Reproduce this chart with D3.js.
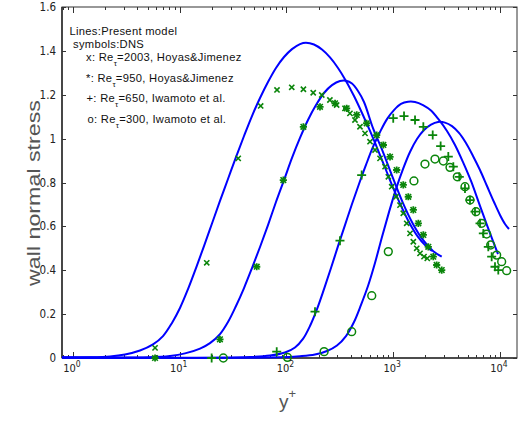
<!DOCTYPE html>
<html>
<head>
<meta charset="utf-8">
<script src="https://cdn.jsdelivr.net/npm/d3@7"></script>
<style>
  html, body { margin: 0; padding: 0; background: #fff; }
  svg { display: block; }
</style>
</head>
<body>
<svg id="chart" width="518" height="421"></svg>
<script>
// Model profiles (blue lines): [y+, wall normal stress]
const model2003 = [[0.79,0.002],[1.443,0.003],[2.222,0.007],[3.07,0.016],[4.243,0.034],[5.615,0.062],[6.968,0.1],[8.46,0.16],[10.05,0.228],[11.95,0.314],[14.2,0.41],[16.87,0.51],[20.05,0.613],[23.82,0.716],[28.31,0.816],[33.65,0.916],[40.0,1.012],[47.5,1.103],[56.5,1.185],[67.1,1.258],[79.7,1.322],[94.8,1.372],[112.6,1.408],[133.8,1.431],[152.3,1.437],[181,1.429],[215.1,1.406],[255.6,1.37],[303.8,1.322],[360.9,1.263],[428.9,1.194],[509.7,1.117],[605.7,1.035],[719.6,0.948],[855.3,0.857],[1016,0.766],[1208,0.684],[1435,0.611],[1706,0.552],[2027,0.51],[2307,0.488]];
const model950 = [[0.79,0.002],[5.264,0.003],[8.1,0.009],[11.2,0.021],[15.48,0.043],[19.2,0.068],[23.82,0.109],[28.31,0.164],[33.65,0.237],[40.0,0.319],[47.5,0.41],[56.5,0.506],[67.1,0.606],[79.7,0.711],[94.8,0.811],[112.6,0.912],[133.8,1.003],[159,1.085],[189,1.153],[224.6,1.208],[266.9,1.244],[317.1,1.263],[360.9,1.264],[410.8,1.251],[467.5,1.217],[532.1,1.167],[646.1,1.048],[801.7,0.939],[994.7,0.82],[1234,0.706],[1531,0.611],[1900,0.538],[2357,0.488],[2844,0.462]];
const model650 = [[0.79,0.002],[45.5,0.005],[70,0.011],[96.8,0.025],[120.1,0.048],[142.7,0.087],[166,0.146],[193.1,0.223],[224.6,0.314],[261.2,0.41],[303.8,0.51],[353.2,0.606],[410.8,0.702],[477.8,0.793],[555.5,0.88],[646.1,0.962],[751.3,1.03],[873.8,1.089],[1016,1.13],[1182,1.158],[1375,1.168],[1599,1.167],[1900,1.153],[2258,1.128],[2684,1.085],[3188,1.035],[3789,0.971],[4503,0.893],[5350,0.807],[6359,0.706],[7554,0.606],[8600,0.533],[9579,0.474]];
const model300 = [[0.79,0.002],[86.9,0.003],[133.8,0.008],[184.9,0.016],[239.5,0.032],[297.2,0.057],[360.9,0.1],[428.9,0.164],[498.9,0.242],[580,0.328],[674.5,0.433],[784.5,0.552],[912.7,0.665],[1061,0.77],[1234,0.861],[1435,0.939],[1669,0.998],[1942,1.039],[2258,1.064],[2626,1.076],[3053,1.073],[3552,1.057],[4130,1.026],[4802,0.98],[5586,0.921],[6495,0.857],[7554,0.784],[8787,0.711],[10000,0.652],[11140,0.611],[12140,0.588]];

// DNS data (green symbols): [y+, wall normal stress]
const dns2003 = [[5.87,0.046],[17.9,0.434],[35.3,0.91],[57.3,1.149],[81.5,1.222],[112,1.234],[144,1.225],[178,1.209],[214,1.199],[255,1.176],[295,1.153],[353,1.138],[393,1.115],[438,1.085],[488,1.054],[544,1.024],[606,0.986],[675,0.948],[752,0.91],[838,0.872],[900,0.826],[968,0.781],[1062,0.735],[1157,0.697],[1242,0.66],[1337,0.614],[1436,0.568],[1542,0.53],[1660,0.5],[1782,0.477],[1942,0.462],[2084,0.454]];
const dns950 = [[5.87,0.0],[23.8,0.085],[52.6,0.416],[93.4,0.811],[144,1.054],[206,1.145],[285,1.161],[366,1.138],[455,1.108],[564,1.07],[700,1.016],[808,0.971],[933,0.917],[1077,0.857],[1242,0.789],[1384,0.735],[1542,0.675],[1718,0.614],[1914,0.561],[2130,0.507],[2373,0.462],[2552,0.424],[2845,0.401]];
const dns650 = [[19.9,0.0],[81,0.029],[185,0.211],[317,0.535],[506,0.834],[1000,1.093],[1262,1.103],[1600,1.085],[1914,1.054],[2343,1.016],[2780,0.966],[3280,0.918],[3655,0.872],[4157,0.826],[4700,0.773],[5236,0.72],[5833,0.667],[6500,0.614],[6982,0.568],[7770,0.507],[8357,0.462],[8980,0.416],[9640,0.401]];
const dns300 = [[25.6,0.0],[102,0.003],[225,0.029],[408,0.12],[629,0.284],[899,0.485],[1563,0.807],[1983,0.884],[2461,0.907],[2944,0.898],[3401,0.869],[3984,0.826],[4700,0.781],[5236,0.72],[5960,0.667],[6740,0.614],[7499,0.565],[8180,0.515],[9310,0.469],[10370,0.439],[11550,0.398]];

// Axis ticks and legend text
const yTicks = [0, 0.2, 0.4, 0.6, 0.8, 1, 1.2, 1.4, 1.6];
const xDecades = [0, 1, 2, 3, 4];
const legendHeader = ["Lines:Present model", "symbols:DNS"];
const legendEntries = [
  {sym: "x:", re: "2003", src: "Hoyas&Jimenez"},
  {sym: "*:", re: "950", src: "Hoyas&Jimenez"},
  {sym: "+:", re: "650", src: "Iwamoto et al."},
  {sym: "o:", re: "300", src: "Iwamoto et al."}
];

const svg = d3.select("#chart");
const plotL = 62, plotR = 517, plotT = 7, plotB = 358;

const x = d3.scaleLog().domain([0.7888, 14434]).range([plotL, plotR]);
const y = d3.scaleLinear().domain([0, 1.6]).range([plotB, plotT]);

const blue = "#0000ff";
const green = "#0a850a";
const axisColor = "#333";

// Axes box
const axes = svg.append("g").attr("stroke", axisColor).attr("fill", "none");
axes.append("rect").attr("x", plotL).attr("y", plotT).attr("width", plotR - plotL).attr("height", plotB - plotT)
  .attr("stroke-width", 1);
axes.append("line").attr("x1", plotL).attr("x2", plotL).attr("y1", plotT).attr("y2", plotB).attr("stroke-width", 1.6);
axes.append("line").attr("x1", plotL).attr("x2", plotR).attr("y1", plotB).attr("y2", plotB).attr("stroke-width", 1.6);

// Y ticks (inward on both sides)
yTicks.forEach(t => {
  const py = Math.round(y(t)) + 0.5;
  axes.append("line").attr("x1", plotL).attr("x2", plotL + 4).attr("y1", py).attr("y2", py);
  axes.append("line").attr("x1", plotR - 4).attr("x2", plotR).attr("y1", py).attr("y2", py);
});

// X ticks: decades plus minor ticks
const [d0, d1] = x.domain();
const xTickVals = [];
for (let e = -1; e <= 4; e++) {
  for (let m = 1; m <= 9; m++) {
    const v = m * Math.pow(10, e);
    if (v >= d0 && v <= d1) xTickVals.push({v, major: m === 1});
  }
}
xTickVals.forEach(t => {
  const px = Math.round(x(t.v)) + 0.5;
  const len = t.major ? 6 : 3;
  axes.append("line").attr("x1", px).attr("x2", px).attr("y1", plotB).attr("y2", plotB - len);
  axes.append("line").attr("x1", px).attr("x2", px).attr("y1", plotT).attr("y2", plotT + len);
});

// Clip region for the plot area
svg.append("defs").append("clipPath").attr("id", "plotClip")
  .append("rect").attr("x", plotL).attr("y", plotT - 2)
  .attr("width", plotR - plotL).attr("height", plotB - plotT + 3);

const plot = svg.append("g").attr("clip-path", "url(#plotClip)");

// Model lines
const line = d3.line().x(d => x(d[0])).y(d => y(d[1])).curve(d3.curveCatmullRom.alpha(0.5));
[model2003, model950, model650, model300].forEach(s => {
  plot.append("path").datum(s).attr("d", line)
    .attr("fill", "none").attr("stroke", blue).attr("stroke-width", 2)
    .attr("stroke-linejoin", "round");
});

// DNS symbols
const sym = svg.append("g").attr("fill", "none").attr("stroke", green).attr("stroke-linecap", "butt");

function drawX(g, cx, cy, r) {
  g.append("path").attr("d", `M${cx-r},${cy-r}L${cx+r},${cy+r}M${cx-r},${cy+r}L${cx+r},${cy-r}`)
    .attr("stroke-width", 1.6);
}
function drawPlus(g, cx, cy, r) {
  g.append("path").attr("d", `M${cx-r},${cy}L${cx+r},${cy}M${cx},${cy-r}L${cx},${cy+r}`)
    .attr("stroke-width", 1.8);
}
dns2003.forEach(d => drawX(sym, x(d[0]), y(d[1]), 2.6));
dns950.forEach(d => {
  const cx = x(d[0]), cy = y(d[1]);
  drawPlus(sym, cx, cy, 3.6);
  drawX(sym, cx, cy, 2.8);
});
dns650.forEach(d => drawPlus(sym, x(d[0]), y(d[1]), 4.5));
dns300.forEach(d => {
  sym.append("circle").attr("cx", x(d[0])).attr("cy", y(d[1])).attr("r", 3.9)
    .attr("stroke-width", 1.5);
});

// Tick labels
const tickFont = "'Liberation Sans Narrow', 'DejaVu Sans Condensed', 'Liberation Sans', sans-serif";
const yLab = svg.append("g").attr("font-family", tickFont).attr("font-size", 11.5).attr("fill", "#222");
yTicks.forEach(t => {
  yLab.append("text").attr("x", 56).attr("y", y(t) + 4).attr("text-anchor", "end").text(d3.format("~g")(t));
});

const xLab = svg.append("g").attr("font-family", tickFont).attr("font-size", 11).attr("fill", "#222");
xDecades.forEach(e => {
  const t = xLab.append("text").attr("x", x(Math.pow(10, e)) - 1).attr("y", 372).attr("text-anchor", "middle");
  t.append("tspan").text("10");
  t.append("tspan").attr("dy", -5).attr("font-size", 8.5).text(String(e));
});

// Axis titles
const titleFont = "'Liberation Sans', Arial, sans-serif";
svg.append("text").attr("transform", "translate(40,193) rotate(-90)")
  .attr("text-anchor", "middle").attr("font-family", titleFont).attr("font-size", 18.5)
  .attr("fill", "#555").attr("textLength", 186).attr("lengthAdjust", "spacingAndGlyphs")
  .text("wall normal stress");

const xt = svg.append("text").attr("x", 279).attr("y", 408).attr("font-family", titleFont)
  .attr("font-size", 19).attr("fill", "#555").attr("text-anchor", "start");
xt.append("tspan").text("y");
xt.append("tspan").attr("dy", -10).attr("font-size", 13).text("+");

// Legend text
const legFont = "'Liberation Sans', Arial, sans-serif";
const leg = svg.append("g").attr("font-family", legFont).attr("font-size", 11.2)
  .attr("letter-spacing", 0.3).attr("fill", "#111");
leg.append("text").attr("x", 69.5).attr("y", 35).text(legendHeader[0]);
leg.append("text").attr("x", 73).attr("y", 48).text(legendHeader[1]);
const legX = [86, 86, 86.5, 87.5];
const legY = [61, 81.5, 102, 122.5];
legendEntries.forEach((e, i) => {
  const t = leg.append("text").attr("x", legX[i]).attr("y", legY[i]);
  t.append("tspan").text(e.sym + " Re");
  t.append("tspan").attr("dy", 5).attr("font-size", 8).text("\u03c4");
  t.append("tspan").attr("dy", -5).text("=" + e.re + ", " + e.src);
});
</script>
</body>
</html>
